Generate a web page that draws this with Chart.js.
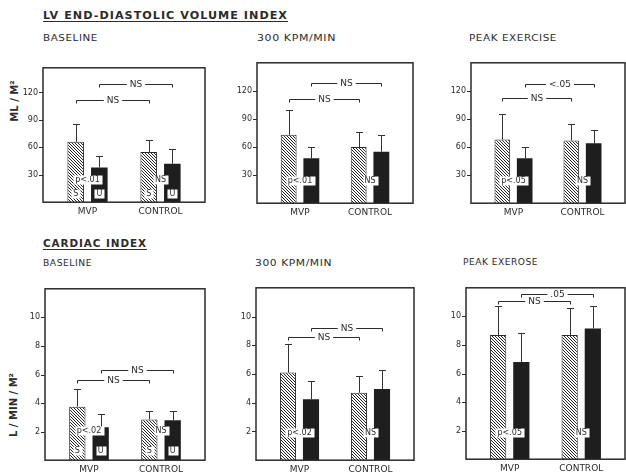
<!DOCTYPE html>
<html><head><meta charset="utf-8">
<script src="https://cdn.jsdelivr.net/npm/chart.js@4/dist/chart.umd.min.js"></script>
<style>
body{margin:0;background:#fff;width:626px;height:476px;overflow:hidden;position:relative;font-family:"DejaVu Sans",sans-serif;color:#2b2b2b}
.h{position:absolute;font-weight:bold;font-size:11px;line-height:11px;letter-spacing:1px;white-space:nowrap;text-decoration:underline;text-underline-offset:2px;transform-origin:left top}
.s{position:absolute;font-size:9px;line-height:9px;letter-spacing:0.5px;white-space:nowrap;transform-origin:left top}
.ax{position:absolute;font-size:10px;line-height:10px;font-weight:bold;white-space:nowrap;transform:translate(-50%,-50%) rotate(-90deg);}
canvas{position:absolute}
</style></head><body>
<div class="h" style="left:43px;top:10px" data-w="245">LV END-DIASTOLIC VOLUME INDEX</div>
<div class="h" style="left:43px;top:238px" data-w="104">CARDIAC INDEX</div>
<div class="s" style="left:43px;top:34px" data-w="55">BASELINE</div>
<div class="s" style="left:257px;top:34px" data-w="79">300 KPM/MIN</div>
<div class="s" style="left:469px;top:34px" data-w="88">PEAK EXERCISE</div>
<div class="s" style="left:43px;top:259px" data-w="49">BASELINE</div>
<div class="s" style="left:255px;top:259px" data-w="77">300 KPM/MIN</div>
<div class="s" style="left:463px;top:258px" data-w="75">PEAK EXEROSE</div>
<div class="ax" style="left:15px;top:101px">ML / M²</div>
<div class="ax" style="left:14px;top:405px">L / MIN / M²</div>
<script>
// ---- data ----
const categories = ['MVP', 'CONTROL'];
const edviTicks = [30, 60, 90, 120];
const ciTicks = [2, 4, 6, 8, 10];
// LV end-diastolic volume index (mL/m²): S = hatched bars, U = solid bars; sd = error bar length
const edviBaselineS = [66, 55], edviBaselineSsd = [19, 13];
const edviBaselineU = [38, 42], edviBaselineUsd = [12, 16];
const edvi300S = [73, 60], edvi300Ssd = [27, 16];
const edvi300U = [48, 55], edvi300Usd = [12, 18];
const edviPeakS = [68, 67], edviPeakSsd = [27, 18];
const edviPeakU = [48, 64], edviPeakUsd = [12, 14];
// Cardiac index (L/min/m²)
const ciBaselineS = [3.75, 2.85], ciBaselineSsd = [1.2, 0.6];
const ciBaselineU = [2.3, 2.8], ciBaselineUsd = [0.95, 0.65];
const ci300S = [6.1, 4.7], ci300Ssd = [2.0, 1.15];
const ci300U = [4.25, 4.95], ci300Usd = [1.25, 1.35];
const ciPeakS = [8.7, 8.7], ciPeakSsd = [2.0, 1.9];
const ciPeakU = [6.8, 9.15], ciPeakUsd = [2.05, 1.55];
// significance labels: [S vs S, U vs U] between groups, and within each group
const edviBaselineSig = ['NS', 'NS'], edviBaselineWithin = ['p<.01', 'NS'];
const edvi300Sig = ['NS', 'NS'], edvi300Within = ['p<.01', 'NS'];
const edviPeakSig = ['NS', '<.05'], edviPeakWithin = ['p<.05', 'NS'];
const ciBaselineSig = ['NS', 'NS'], ciBaselineWithin = ['p<.02', 'NS'];
const ci300Sig = ['NS', 'NS'], ci300Within = ['p<.02', 'NS'];
const ciPeakSig = ['NS', '.05'], ciPeakWithin = ['p<.05', 'NS'];

// ---- layout / style ----
const FONT = '"DejaVu Sans", sans-serif';
const TXT = '#2b2b2b', LINE = '#2b2b2b';
const PAD = 8;

const panels = [
  {canvasLeft:0, fl:43, fr:205, ft:52, fb:204, yMax:147, ticks:edviTicks, S:edviBaselineS, Ssd:edviBaselineSsd, U:edviBaselineU, Usd:edviBaselineUsd, sig:edviBaselineSig, within:edviBaselineWithin, brY:[112,129], wY:25, su:true, suY:10},
  {canvasLeft:217, fl:257, fr:413, ft:47, fb:205, yMax:150, ticks:edviTicks, S:edvi300S, Ssd:edvi300Ssd, U:edvi300U, Usd:edvi300Usd, sig:edvi300Sig, within:edvi300Within, brY:[111,128], wY:24},
  {canvasLeft:431, fl:471, fr:625, ft:47, fb:205, yMax:150, ticks:edviTicks, S:edviPeakS, Ssd:edviPeakSsd, U:edviPeakU, Usd:edviPeakUsd, sig:edviPeakSig, within:edviPeakWithin, brY:[112,127], wY:24},
  {canvasLeft:0, fl:45, fr:205, ft:273, fb:462, yMax:12, ticks:ciTicks, S:ciBaselineS, Ssd:ciBaselineSsd, U:ciBaselineU, Usd:ciBaselineUsd, sig:ciBaselineSig, within:ciBaselineWithin, brY:[5.6,6.35], wY:2.1, su:true, suY:0.7},
  {canvasLeft:216, fl:256, fr:414, ft:272, fb:462, yMax:12, ticks:ciTicks, S:ci300S, Ssd:ci300Ssd, U:ci300U, Usd:ci300Usd, sig:ci300Sig, within:ci300Within, brY:[8.6,9.2], wY:1.9},
  {canvasLeft:426, fl:466, fr:625, ft:272, fb:461, yMax:12, ticks:ciTicks, S:ciPeakS, Ssd:ciPeakSsd, U:ciPeakU, Usd:ciPeakUsd, sig:ciPeakSig, within:ciPeakWithin, brY:[11.1,11.55], wY:1.85}
];

function hatchPattern(){
  const n = 3;
  const c = document.createElement('canvas'); c.width = n; c.height = n;
  const g = c.getContext('2d');
  g.fillStyle = '#fff'; g.fillRect(0,0,n,n);
  g.strokeStyle = '#262626'; g.lineWidth = 1;
  g.beginPath();
  g.moveTo(-1,-1); g.lineTo(n+1,n+1);
  g.moveTo(-1,n-1); g.lineTo(1,n+1);
  g.moveTo(n-1,-1); g.lineTo(n+1,1);
  g.stroke();
  return g.createPattern(c, 'repeat');
}
const HATCH = hatchPattern();

function seg(ctx,a,b,c,d){ctx.beginPath();ctx.moveTo(a,b);ctx.lineTo(c,d);ctx.stroke();}
function box(ctx,cx,cy,txt,border){
  const w = Math.round(ctx.measureText(txt).width + 4), h = 9;
  const x = Math.round(cx - w/2) + 0.5, y = Math.round(cy - h/2) + 0.5;
  ctx.fillStyle = '#fff'; ctx.fillRect(x, y, w, h);
  if (border) { ctx.strokeStyle = '#999'; ctx.lineWidth = 1; ctx.strokeRect(x, y, w, h); }
  ctx.fillStyle = TXT; ctx.fillText(txt, cx, cy + 0.5);
}

function decor(p){
  return {
    id: 'decor',
    afterDatasetsDraw(chart){
      const {ctx, chartArea:a, scales:{y}} = chart;
      const x0 = a.left - PAD, x1 = a.right + PAD;
      const yTop = y.getPixelForValue(p.yMax), yBot = y.getPixelForValue(0);
      ctx.save();
      ctx.strokeStyle = LINE; ctx.lineWidth = 1.5;
      ctx.strokeRect(x0, yTop, x1 - x0, yBot - yTop);
      ctx.lineWidth = 1;
      p.ticks.forEach(v => { const py = Math.round(y.getPixelForValue(v)) + 0.5; seg(ctx, x0 - 4, py, x0, py); });
      const mS = chart.getDatasetMeta(0).data, mU = chart.getDatasetMeta(1).data;
      ctx.strokeStyle = '#333';
      [[mS, p.S, p.Ssd], [mU, p.U, p.Usd]].forEach(([m, v, sd]) => m.forEach((b, i) => {
        const t = y.getPixelForValue(v[i]), e = Math.round(y.getPixelForValue(v[i] + sd[i])) + 0.5;
        const bx = Math.round(b.x) + 0.5;
        seg(ctx, bx, t, bx, e); seg(ctx, bx - 3.5, e, bx + 3.5, e);
      }));
      ctx.strokeStyle = LINE;
      ctx.font = '9px ' + FONT; ctx.textAlign = 'center'; ctx.textBaseline = 'middle'; ctx.fillStyle = TXT;
      [[mS, p.sig[0], p.brY[0]], [mU, p.sig[1], p.brY[1]]].forEach(([m, txt, val]) => {
        const xa = Math.round(m[0].x) + 0.5, xb = Math.round(m[1].x) + 0.5;
        const py = Math.round(y.getPixelForValue(val)) + 0.5, mid = (xa + xb) / 2;
        const tw = ctx.measureText(txt).width / 2 + 3;
        seg(ctx, xa, py + 3, xa, py); seg(ctx, xa, py, mid - tw, py);
        seg(ctx, mid + tw, py, xb, py); seg(ctx, xb, py, xb, py + 3);
        ctx.fillText(txt, mid, py + 0.5);
      });
      ctx.font = '8px ' + FONT;
      p.within.forEach((txt, i) => { box(ctx, (mS[i].x + mU[i].x) / 2, y.getPixelForValue(p.wY), txt, false); });
      if (p.su) {
        [0, 1].forEach(i => {
          box(ctx, mS[i].x, y.getPixelForValue(p.suY), 'S', false);
          box(ctx, mU[i].x, y.getPixelForValue(p.suY), 'U', false);
        });
      }
      ctx.restore();
    }
  };
}

function build(p){
  const W = p.fr - p.canvasLeft + 2, H = p.fb - p.ft + 2 + 16;
  const cv = document.createElement('canvas');
  cv.width = W; cv.height = H;
  cv.style.left = p.canvasLeft + 'px'; cv.style.top = (p.ft - 2) + 'px';
  document.body.appendChild(cv);
  const yW = p.fl - p.canvasLeft + PAD;
  new Chart(cv, {
    type: 'bar',
    data: { labels: categories, datasets: [
      {label: 'S', data: p.S, backgroundColor: HATCH, borderColor: '#2a2a2a', borderWidth: 1},
      {label: 'U', data: p.U, backgroundColor: '#1e1e1e', borderWidth: 0}
    ]},
    options: {
      responsive: false, animation: false, devicePixelRatio: 1,
      layout: {padding: {left: 0, right: 10, top: 2, bottom: 0}},
      datasets: {bar: {categoryPercentage: 0.648, barPercentage: 0.70}},
      plugins: {legend: {display: false}, tooltip: {enabled: false}},
      scales: {
        x: {grid: {display: false, drawTicks: false}, border: {display: false},
            ticks: {font: {size: 9, family: FONT}, color: TXT, padding: 4, maxRotation: 0, autoSkip: false},
            afterFit(s){ s.height = 16; }},
        y: {min: 0, max: p.yMax, grid: {display: false, drawTicks: false}, border: {display: false},
            ticks: {font: {size: 8, family: FONT}, color: TXT, padding: 13},
            afterBuildTicks(s){ s.ticks = p.ticks.map(v => ({value: v})); },
            afterFit(s){ s.width = yW; }}
      }
    },
    plugins: [decor(p)]
  });
}
panels.forEach(build);

document.querySelectorAll('[data-w]').forEach(el => {
  const w = el.getBoundingClientRect().width;
  el.style.transform = 'scaleX(' + (parseFloat(el.dataset.w) / w) + ')';
});
</script>
</body></html>
